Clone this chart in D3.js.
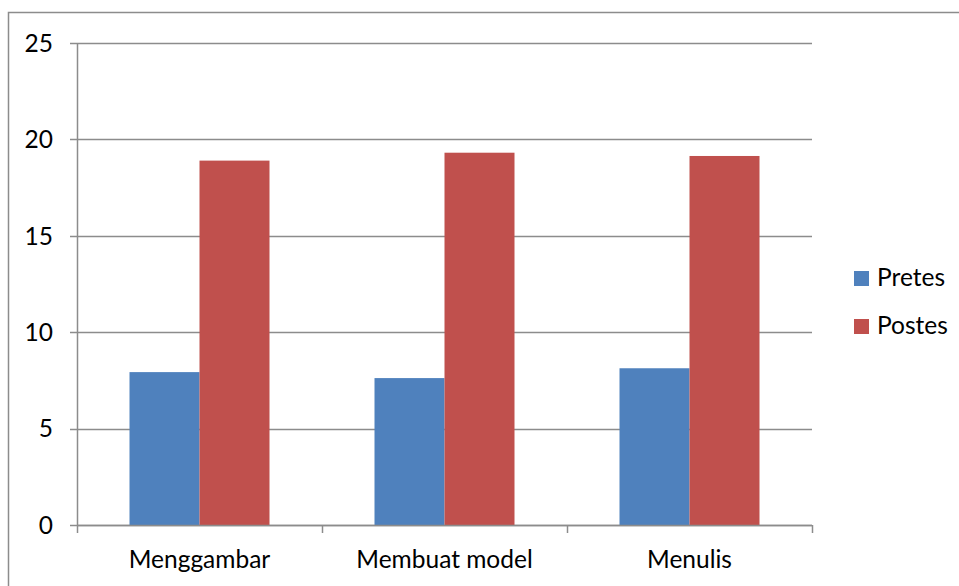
<!DOCTYPE html>
<html>
<head>
<meta charset="utf-8">
<script src="https://cdn.jsdelivr.net/npm/d3@7"></script>
<style>
  body { margin: 0; background: #fff; }
  text { font-family: Lato, "Open Sans", sans-serif; fill: #000; }
</style>
</head>
<body>
<div id="chart"></div>
<script>
// Kategorije in vrednosti (odčitano s slike)
const categories = ["Menggambar", "Membuat model", "Menulis"];
const seriesNames = ["Pretes", "Postes"];
const pretes = [7.93, 7.62, 8.13];
const postes = [18.9, 19.31, 19.14];
const yTicks = [0, 5, 10, 15, 20, 25];
const colors = ["#4F81BD", "#C0504D"];

const W = 959, H = 586;
const margin = { top: 43, right: 147, bottom: 61, left: 77 };
const width = W - margin.left - margin.right;   // 735
const height = H - margin.top - margin.bottom;  // 482
const fontSize = "24.5px";

const svg = d3.select("#chart")
    .append("svg")
    .attr("width", W)
    .attr("height", H);

// Zunanji okvir (sega čez rob)
svg.append("rect")
    .attr("x", 8.5)
    .attr("y", 12.5)
    .attr("width", 1000)
    .attr("height", 1000)
    .attr("fill", "none")
    .attr("stroke", "#8c8c8c")
    .attr("stroke-width", 1.5);

const g = svg.append("g")
    .attr("transform", `translate(${margin.left},${margin.top})`);

const x = d3.scaleBand()
    .domain(categories)
    .range([0, width])
    .padding(0);

const y = d3.scaleLinear()
    .domain([0, 25])
    .range([height, 0]);

// Mreža
g.append("g")
    .selectAll("line")
    .data(yTicks)
    .enter()
    .append("line")
    .attr("x1", -7)
    .attr("x2", width)
    .attr("y1", d => Math.round(y(d)) + 0.5)
    .attr("y2", d => Math.round(y(d)) + 0.5)
    .attr("stroke", "#8c8c8c")
    .attr("stroke-width", 1.5);

// Stolpci
const barW = x.bandwidth() / 3.5;
const data = categories.map((c, i) => ({ cat: c, vals: [pretes[i], postes[i]] }));

const groups = g.append("g")
    .selectAll("g")
    .data(data)
    .enter()
    .append("g")
    .attr("transform", d => `translate(${x(d.cat) + x.bandwidth() / 2 - barW},0)`);

groups.selectAll("rect")
    .data(d => d.vals)
    .enter()
    .append("rect")
    .attr("x", (d, i) => i * barW)
    .attr("y", d => y(d))
    .attr("width", barW)
    .attr("height", d => height - y(d))
    .attr("fill", (d, i) => colors[i]);

// Y os
g.append("line")
    .attr("x1", 0.5).attr("x2", 0.5)
    .attr("y1", 0).attr("y2", height)
    .attr("stroke", "#8c8c8c")
    .attr("stroke-width", 1.5);

g.append("g")
    .selectAll("text")
    .data(yTicks)
    .enter()
    .append("text")
    .attr("x", -24)
    .attr("y", d => y(d))
    .attr("dy", "0.36em")
    .style("text-anchor", "end")
    .style("font-size", fontSize)
    .text(d => d);

// X os
g.append("line")
    .attr("x1", 0).attr("x2", width)
    .attr("y1", height + 0.5).attr("y2", height + 0.5)
    .attr("stroke", "#8c8c8c")
    .attr("stroke-width", 1.5);

const xTickPos = categories.map(c => x(c)).concat([width]);
g.append("g")
    .selectAll("line")
    .data(xTickPos)
    .enter()
    .append("line")
    .attr("x1", d => Math.round(d) + 0.5)
    .attr("x2", d => Math.round(d) + 0.5)
    .attr("y1", height)
    .attr("y2", height + 8)
    .attr("stroke", "#8c8c8c")
    .attr("stroke-width", 1.5);

g.append("g")
    .selectAll("text")
    .data(categories)
    .enter()
    .append("text")
    .attr("x", d => x(d) + x.bandwidth() / 2)
    .attr("y", height + 43)
    .style("text-anchor", "middle")
    .style("font-size", fontSize)
    .text(d => d);

// Legenda
const legend = svg.append("g")
    .selectAll("g")
    .data(seriesNames)
    .enter()
    .append("g")
    .attr("transform", (d, i) => `translate(854,${271 + i * 48})`);

legend.append("rect")
    .attr("width", 15)
    .attr("height", 15)
    .attr("fill", (d, i) => colors[i]);

legend.append("text")
    .attr("x", 23)
    .attr("y", 15)
    .style("font-size", fontSize)
    .text(d => d);
</script>
</body>
</html>
